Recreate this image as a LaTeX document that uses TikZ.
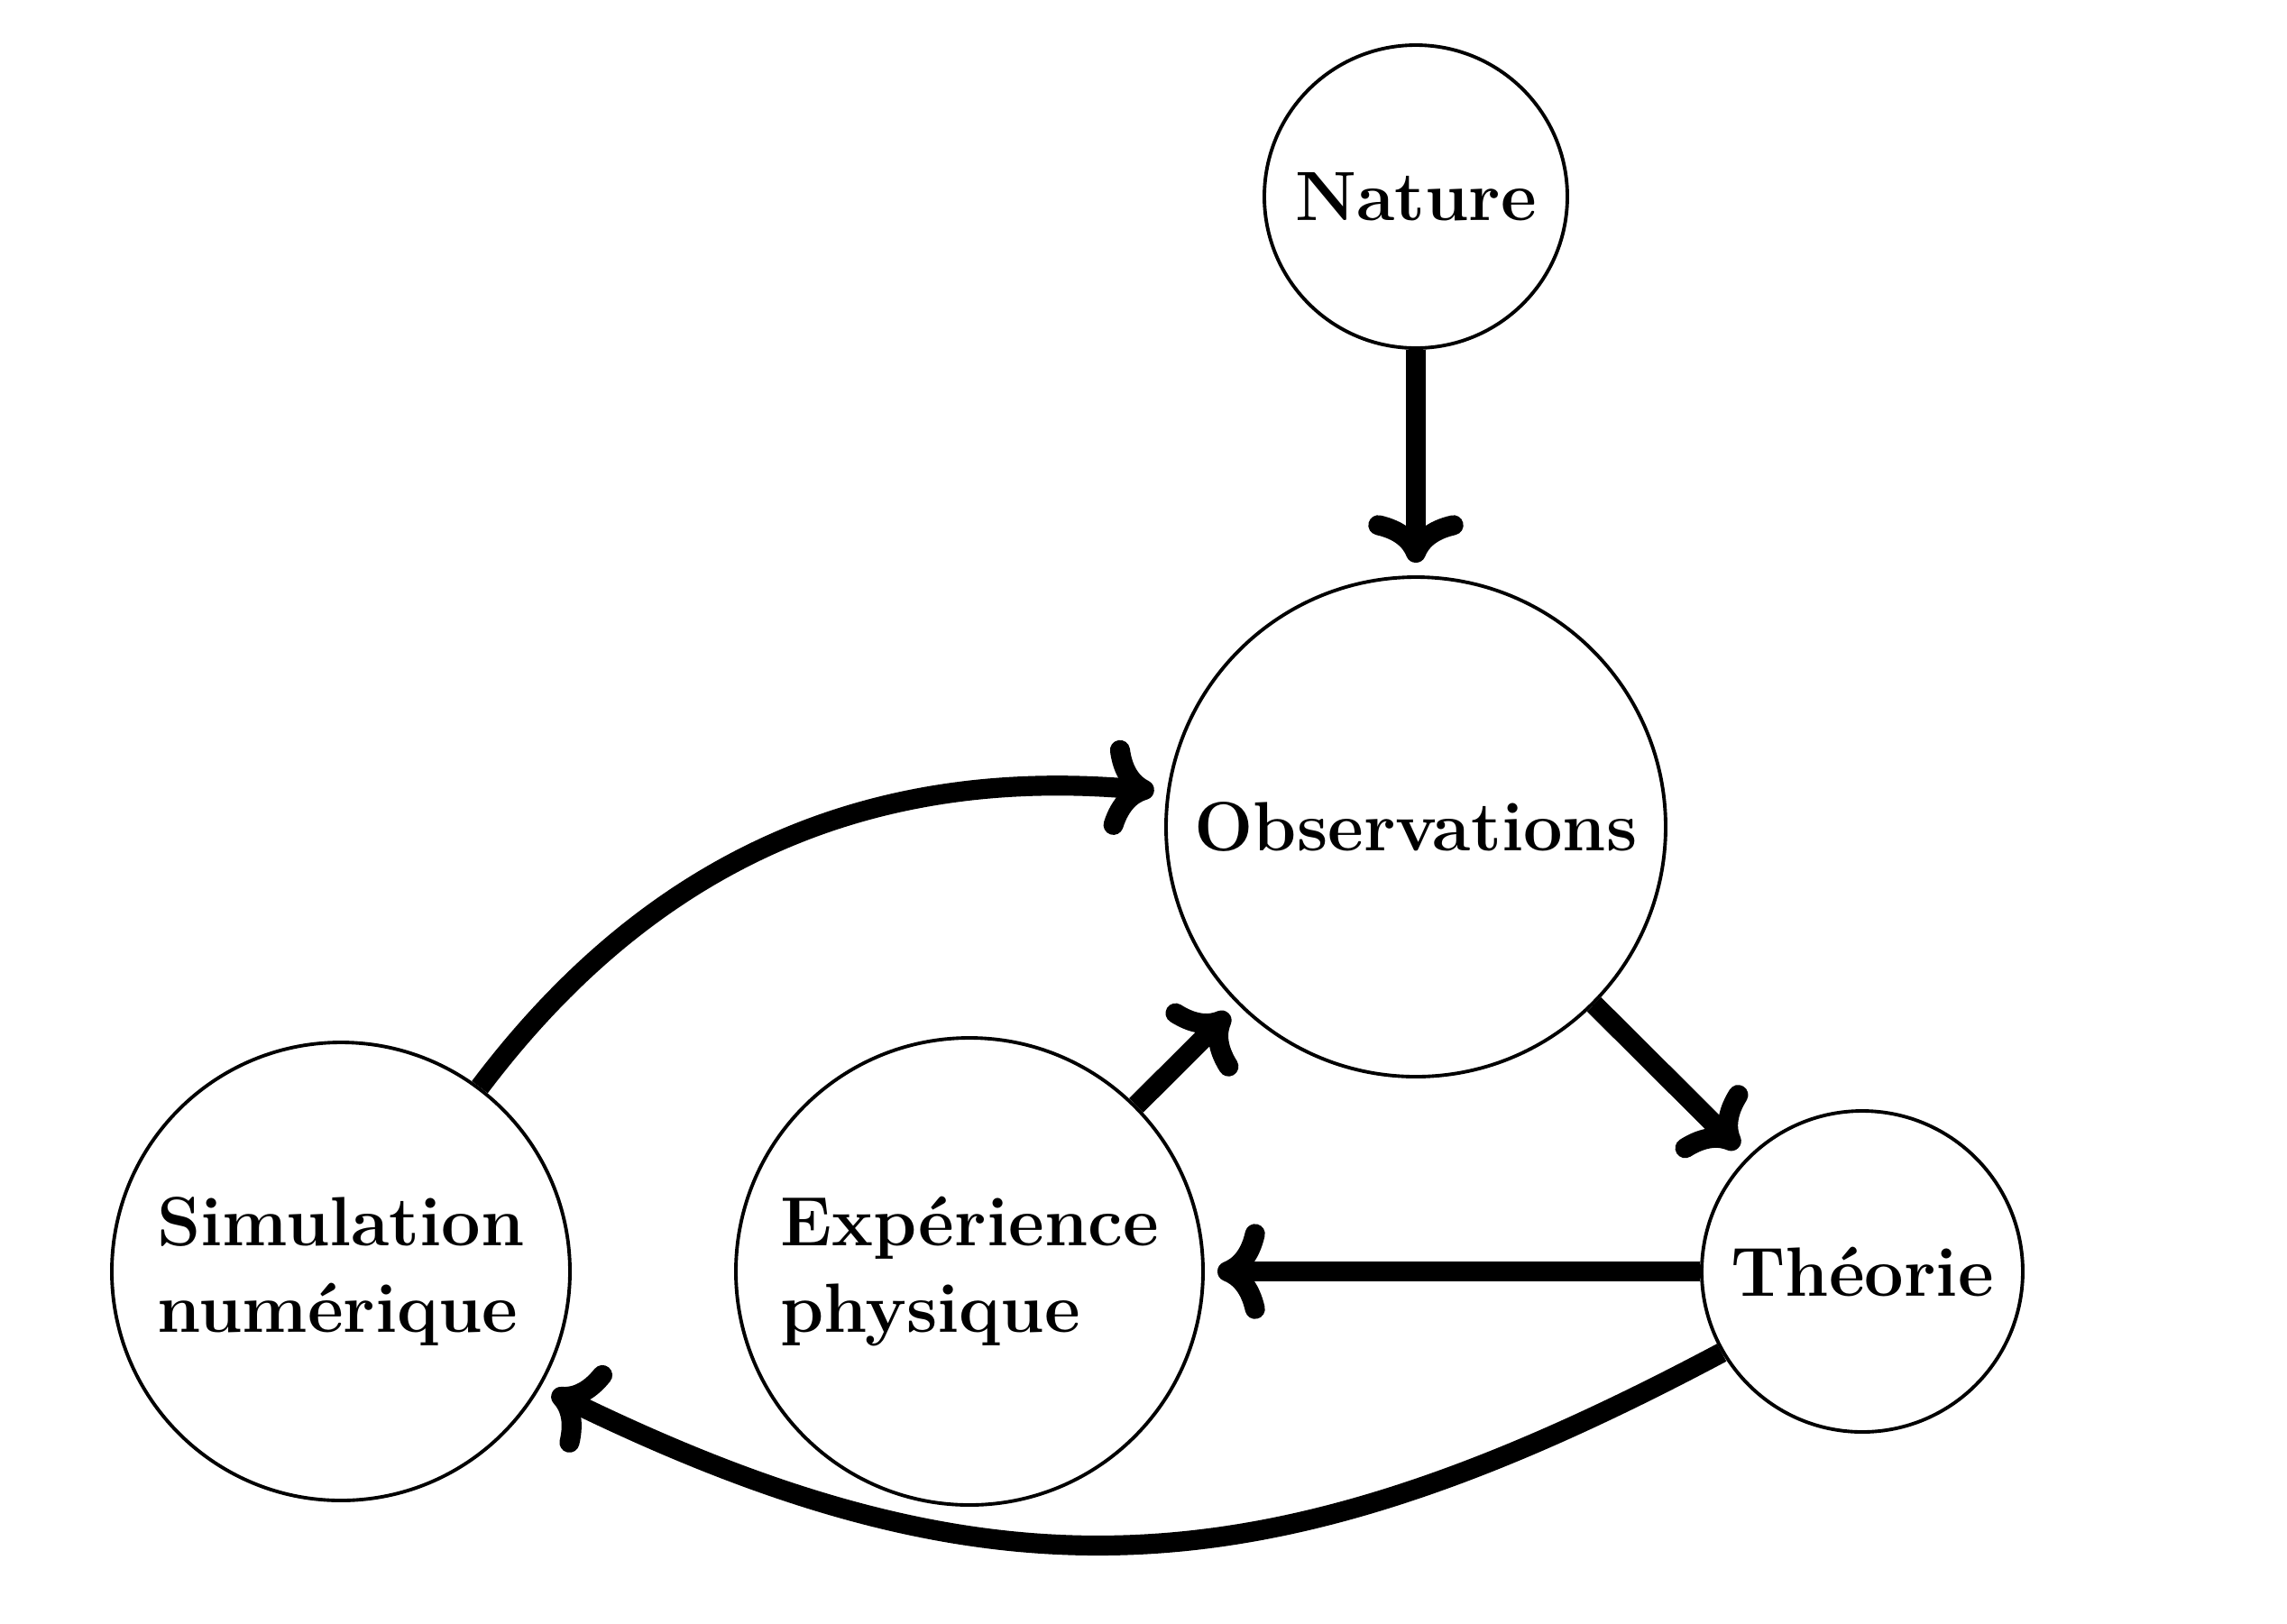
\documentclass[tikz,border=0pt]{standalone}
\usetikzlibrary{arrows.meta}
\begin{document}
\begin{tikzpicture}[x=1cm,y=1cm,
  bub/.style={draw, circle, line width=1.1pt, inner sep=0pt,
    font=\fontsize{22}{27.5}\selectfont\bfseries, align=left},
  flow/.style={line width=6.3pt, line cap=butt,
    -{Computer Modern Rightarrow[length=15pt,width=30pt,round]},
    shorten >=4pt}]
\useasboundingbox (0,0) rectangle (25.36,-18);
\node[bub, minimum size=3.36cm] (nat) at (15.70,-2.18) {Nature};
\node[bub, minimum size=5.54cm] (obs) at (15.70,-9.17) {Observations};
\node[bub, minimum size=3.56cm] (th) at (20.65,-14.10) {Théorie};
\node[bub, minimum size=5.18cm] (exp) at (10.75,-14.10) {Expérience\\physique};
\node[bub, minimum size=5.08cm] (sim) at (3.78,-14.10) {Simulation\\numérique};
\draw[flow] (nat) -- (obs);
\draw[flow] (obs) -- (th);
\draw[flow] (th) -- (exp);
\draw[flow] (exp) -- (obs);
\draw[flow] (sim.53) to[out=53,in=175] (obs.172);
\draw[flow] (th.210) to[out=208,in=-26,looseness=1.1] (sim.-30);
\end{tikzpicture}
\end{document}
